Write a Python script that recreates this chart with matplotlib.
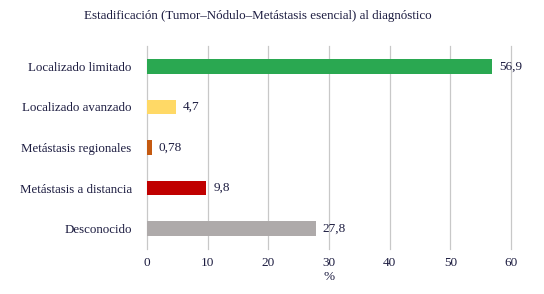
import matplotlib.pyplot as plt
import numpy as np

# datos
categorias = ["Localizado limitado", "Localizado avanzado", "Metástasis regionales",
              "Metástasis a distancia", "Desconocido"]
valores = [56.9, 4.7, 0.78, 9.8, 27.8]
etiquetas = ["56,9", "4,7", "0,78", "9,8", "27,8"]
colores = ["#2aa851", "#ffd966", "#c55a11", "#c00000", "#aeaaaa"]
ticks_x = [0, 10, 20, 30, 40, 50, 60]

plt.rcParams['font.family'] = ['Liberation Serif', 'DejaVu Serif']
texto = '#1c1c40'

fig = plt.figure(figsize=(5.44, 2.94), dpi=100)
ax = fig.add_axes([147 / 544, 1 - 249 / 294, (511 - 147) / 544, 203 / 294])

y = np.arange(len(categorias))
barras = ax.barh(y, valores, height=0.36, color=colores, zorder=3)

for b, et in zip(barras, etiquetas):
    ax.annotate(et, xy=(b.get_width(), b.get_y() + b.get_height() / 2),
                xytext=(5, 0), textcoords="offset points",
                ha='left', va='center', fontsize=9.5, color=texto)

ax.set_yticks(y)
ax.set_yticklabels(categorias, fontsize=9.3, color=texto)
ax.set_ylim(len(categorias) - 0.5, -0.5)
ax.set_xlim(0, 60)
ax.set_xticks(ticks_x)
ax.set_xticklabels([str(t) for t in ticks_x], fontsize=9.5, color=texto)
ax.tick_params(axis='y', length=0, pad=11)
ax.tick_params(axis='x', length=0, pad=6)
ax.xaxis.grid(True, color='#c8c8c8', linewidth=0.9, zorder=0)
for linea in ax.get_xgridlines():
    linea.set_clip_on(False)
for s in ax.spines.values():
    s.set_visible(False)

ax.set_xlabel('%', fontsize=9.5, color=texto, labelpad=1)

fig.text(258 / 544, 1 - 16 / 294, "Estadificación (Tumor–Nódulo–Metástasis esencial) al diagnóstico",
         ha='center', va='center', fontsize=9.4, color=texto)

plt.savefig('out.png', dpi=100)
